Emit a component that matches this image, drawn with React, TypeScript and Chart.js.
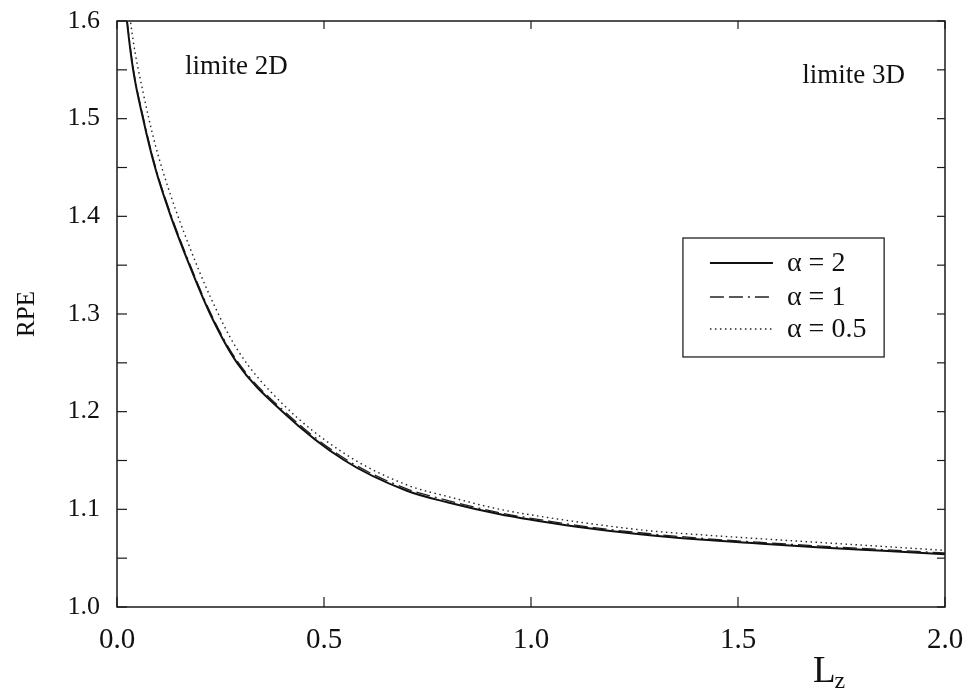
import React, { useEffect, useRef } from 'react';
import { Chart, registerables } from 'chart.js';

Chart.register(...registerables);

// ---- data ----
const lz = [0.01, 0.024, 0.039, 0.063, 0.092, 0.13, 0.175, 0.225, 0.29, 0.4, 0.55, 0.7, 0.8, 0.925, 1.05, 1.167, 1.287, 1.408, 1.55, 1.7, 1.85, 2.0];
const rpeAlpha2 = [1.663, 1.6, 1.55, 1.5, 1.45, 1.4, 1.35, 1.3, 1.25, 1.2, 1.15, 1.119, 1.107, 1.095, 1.086, 1.079, 1.0735, 1.069, 1.065, 1.061, 1.0575, 1.054];
const rpeAlpha1 = [1.665, 1.602, 1.552, 1.502, 1.452, 1.402, 1.352, 1.302, 1.252, 1.202, 1.152, 1.121, 1.109, 1.0965, 1.0875, 1.0805, 1.075, 1.0705, 1.0663, 1.0623, 1.0588, 1.0553];
const rpeAlpha05 = [1.69, 1.63, 1.58, 1.527, 1.474, 1.421, 1.369, 1.318, 1.264, 1.208, 1.157, 1.125, 1.113, 1.1, 1.091, 1.084, 1.078, 1.074, 1.07, 1.066, 1.062, 1.058];
const seriesLabels = ['α = 2', 'α = 1', 'α = 0.5'];
const xRange = [0, 2];
const yRange = [1.0, 1.6];
const xStep = 0.5;
const yStep = 0.05;
const xTitleMain = 'L';
const xTitleSub = 'z';
const yTitle = 'RPE';
const noteLeft = 'limite 2D';
const noteRight = 'limite 3D';

const SERIF = '"Liberation Serif", "DejaVu Serif", serif';

const pts = (ys: number[]) => lz.map((x, i) => ({ x, y: ys[i] }));

const decorPlugin = {
  id: 'decor',
  afterDraw(chart: any) {
    const { ctx, chartArea: a, scales } = chart;
    const xs = scales.x;
    const ys = scales.y;
    const line = (x1: number, y1: number, x2: number, y2: number) => {
      ctx.beginPath();
      ctx.moveTo(x1, y1);
      ctx.lineTo(x2, y2);
      ctx.stroke();
    };
    ctx.save();
    // frame
    ctx.strokeStyle = '#1a1a1a';
    ctx.lineWidth = 1.5;
    ctx.setLineDash([]);
    ctx.strokeRect(a.left, a.top, a.right - a.left, a.bottom - a.top);
    // inward ticks
    ctx.lineWidth = 1.2;
    ys.ticks.forEach((t: any) => {
      const py = ys.getPixelForValue(t.value);
      line(a.left, py, a.left + 10, py);
      line(a.right - 8, py, a.right, py);
    });
    xs.ticks.forEach((t: any) => {
      const px = xs.getPixelForValue(t.value);
      line(px, a.bottom, px, a.bottom - 10);
      line(px, a.top, px, a.top + 8);
    });

    // notes
    ctx.fillStyle = '#111';
    ctx.font = `27px ${SERIF}`;
    ctx.textAlign = 'left';
    ctx.textBaseline = 'alphabetic';
    ctx.fillText(noteLeft, xs.getPixelForValue(0.164), ys.getPixelForValue(1.546));
    ctx.fillText(noteRight, xs.getPixelForValue(1.655), ys.getPixelForValue(1.5365));

    // legend box
    const bx1 = xs.getPixelForValue(1.367);
    const bx2 = xs.getPixelForValue(1.853);
    const by1 = ys.getPixelForValue(1.3778);
    const by2 = ys.getPixelForValue(1.256);
    ctx.strokeStyle = '#222';
    ctx.lineWidth = 1.3;
    ctx.strokeRect(bx1, by1, bx2 - bx1, by2 - by1);
    const rowY = [by1 + 25, by1 + 59, by1 + 91];
    chart.data.datasets.forEach((ds: any, i: number) => {
      const y = rowY[i];
      ctx.save();
      ctx.strokeStyle = ds.borderColor;
      ctx.lineWidth = ds.borderWidth;
      ctx.setLineDash(ds.borderDash || []);
      line(bx1 + 27, y, bx1 + 90, y);
      ctx.restore();
      ctx.fillStyle = '#111';
      ctx.font = `28px ${SERIF}`;
      ctx.textBaseline = 'middle';
      ctx.fillText(ds.label, bx1 + 104, y + 1);
    });

    // x title L_z
    ctx.textBaseline = 'alphabetic';
    const lx = xs.getPixelForValue(1.681);
    ctx.font = `37px ${SERIF}`;
    ctx.fillText(xTitleMain, lx, a.bottom + 75);
    const w = ctx.measureText(xTitleMain).width;
    ctx.font = `24px ${SERIF}`;
    ctx.fillText(xTitleSub, lx + w - 1, a.bottom + 81);
    ctx.restore();
  },
};

export default function App() {
  const ref = useRef<HTMLCanvasElement | null>(null);
  useEffect(() => {
    if (!ref.current) return;
    const chart = new Chart(ref.current, {
      type: 'line',
      data: {
        datasets: [
          {
            label: seriesLabels[0],
            data: pts(rpeAlpha2),
            borderColor: '#111',
            borderWidth: 2,
            pointRadius: 0,
            cubicInterpolationMode: 'monotone',
          },
          {
            label: seriesLabels[1],
            data: pts(rpeAlpha1),
            borderColor: '#222',
            borderWidth: 1.3,
            borderDash: [14, 5, 14, 5, 2, 5],
            pointRadius: 0,
            cubicInterpolationMode: 'monotone',
          },
          {
            label: seriesLabels[2],
            data: pts(rpeAlpha05),
            borderColor: '#222',
            borderWidth: 1.4,
            borderDash: [1.5, 3.5],
            pointRadius: 0,
            cubicInterpolationMode: 'monotone',
          },
        ],
      },
      options: {
        animation: false,
        responsive: false,
        events: [],
        layout: { padding: { top: 21, right: 23, left: 0, bottom: 0 } },
        plugins: {
          legend: { display: false },
          tooltip: { enabled: false },
        },
        scales: {
          x: {
            type: 'linear',
            min: xRange[0],
            max: xRange[1],
            grid: { display: false, drawTicks: false },
            border: { display: false },
            ticks: {
              stepSize: xStep,
              autoSkip: false,
              maxRotation: 0,
              padding: 16,
              color: '#111',
              font: { family: SERIF, size: 29 },
              callback: (v: any) => Number(v).toFixed(1),
            },
            afterFit: (s: any) => {
              s.height = 83;
              s.paddingLeft = 0;
              s.paddingRight = 0;
            },
          },
          y: {
            type: 'linear',
            min: yRange[0],
            max: yRange[1],
            grid: { display: false, drawTicks: false },
            border: { display: false },
            title: {
              display: true,
              text: yTitle,
              color: '#111',
              font: { family: SERIF, size: 25 },
              padding: { top: 12, bottom: 0 },
            },
            ticks: {
              stepSize: yStep,
              autoSkip: false,
              padding: 17,
              color: '#111',
              font: { family: SERIF, size: 26 },
              callback: (v: any) => {
                const n = Number(v) * 10;
                return Math.abs(n - Math.round(n)) < 1e-6 ? Number(v).toFixed(1) : '';
              },
            },
            afterFit: (s: any) => {
              s.width = 117;
              s.paddingTop = 0;
              s.paddingBottom = 0;
            },
          },
        },
      },
      plugins: [decorPlugin],
    } as any);
    return () => chart.destroy();
  }, []);
  return (
    <div style={{ position: 'absolute', left: 0, top: 0, width: 968, height: 690, background: '#fff' }}>
      <canvas ref={ref} width={968} height={690} style={{ display: 'block' }} />
    </div>
  );
}
